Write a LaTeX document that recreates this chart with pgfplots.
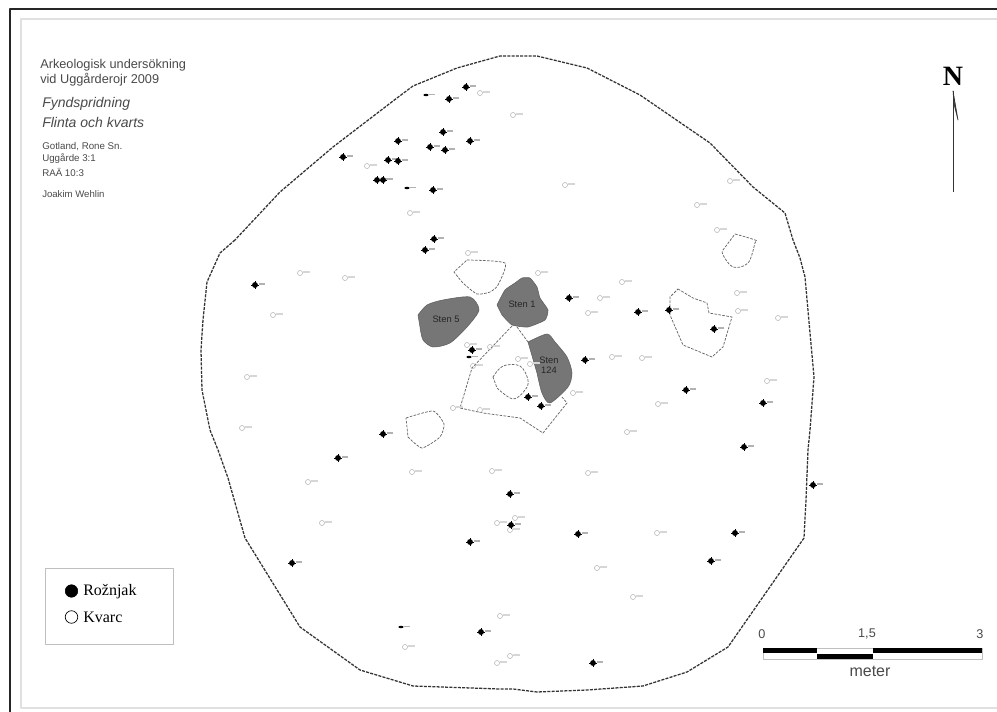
\documentclass[border=0pt]{standalone}
\usepackage{fontspec}
\setmainfont{Liberation Sans}
\newfontfamily\serif{Liberation Serif}
\usepackage{pgfplots}
\pgfplotsset{compat=1.18}
\definecolor{stone}{HTML}{767676}
\definecolor{txt}{HTML}{4A4A4A}
\pgfdeclareplotmark{rock}{%
  \pgfsetfillcolor{black}\pgfsetstrokecolor{black}%
  \pgfpathcircle{\pgfpointorigin}{2.2pt}\pgfusepath{fill}%
  \pgfsetlinewidth{0.4pt}%
  \pgfpathmoveto{\pgfpoint{-3pt}{0pt}}\pgfpathlineto{\pgfpoint{3pt}{0pt}}%
  \pgfpathmoveto{\pgfpoint{0pt}{-3pt}}\pgfpathlineto{\pgfpoint{0pt}{3pt}}\pgfusepath{stroke}%
  \pgfsetstrokecolor{black!30}\pgfsetlinewidth{1.5pt}%
  \pgfpathmoveto{\pgfpoint{3.2pt}{0.7pt}}\pgfpathlineto{\pgfpoint{7.5pt}{0.7pt}}\pgfusepath{stroke}%
}
\pgfdeclareplotmark{rocksmall}{%
  \pgfsetfillcolor{black}\pgfsetstrokecolor{black}%
  \pgfpathellipse{\pgfpointorigin}{\pgfpoint{2pt}{0pt}}{\pgfpoint{0pt}{0.9pt}}\pgfusepath{fill}%
  \pgfsetstrokecolor{black!30}\pgfsetlinewidth{1.2pt}%
  \pgfpathmoveto{\pgfpoint{2.4pt}{0.3pt}}\pgfpathlineto{\pgfpoint{6.5pt}{0.3pt}}\pgfusepath{stroke}%
}
\pgfdeclareplotmark{quartz}{%
  \pgfsetstrokecolor{black!28}\pgfsetlinewidth{0.4pt}%
  \pgfpathcircle{\pgfpointorigin}{1.9pt}\pgfusepath{stroke}%
  \pgfsetstrokecolor{black!16}\pgfsetlinewidth{1.6pt}%
  \pgfpathmoveto{\pgfpoint{2.4pt}{1pt}}\pgfpathlineto{\pgfpoint{7.5pt}{1pt}}\pgfusepath{stroke}%
}
\begin{document}
\begin{tikzpicture}
\begin{axis}[
  scale only axis, width=747.75pt, height=534pt,
  xmin=0, xmax=997, ymin=0, ymax=712, y dir=reverse,
  hide axis, clip=true,
  every axis plot/.append style={line join=round},
]
% background
\addplot[fill=white,draw=none] coordinates {(0,0)(997,0)(997,712)(0,712)} --cycle;
% frame
\addplot[black!85,line width=1.7pt] coordinates {(997,9)(10,9)(10,712)};
\addplot[black!12,line width=1.4pt] coordinates {(997,19)(21,19)(21,708)(997,708)};
% boundary
\addplot[black!80,line width=0.95pt,dash pattern=on 2.3pt off 0.9pt] coordinates {
(235,240)(220,253)(207,282)(203,320)(201,350)(202,390)(210,430)(218,450)(228,478)(245,538)
(300,627)(360,670)(413,686)(500,689)(513,689)(537,692)(587,690)(643,686)(687,672)(728,647)
(804,538)(806,500)(808,450)(810,430)(814,377)(810,333)(805,277)(800,258)(793,240)(785,213)
(753,187)(710,143)(640,95)(587,68)(537,56)(500,56)(457,68)(413,86)(397,98)(333,147)(280,192)(235,240)};
% stones
\addplot[smooth,tension=0.45,fill=stone,draw=stone!80!black,line width=0.4pt] coordinates {
(418,315)(427,305)(443,300)(470,297)(479,310)(467,327)(450,343)(433,347)(423,340)(420,327)} --cycle;
\addplot[smooth,tension=0.3,fill=stone,draw=stone!80!black,line width=0.4pt] coordinates {
(497,305)(505,290)(515,283)(522,278)(530,278)(537,287)(540,298)(548,310)(545,320)(528,327)(512,325)(502,315)} --cycle;
\addplot[smooth,tension=0.45,fill=stone,draw=stone!80!black,line width=0.4pt] coordinates {
(528,342)(547,334)(555,342)(567,357)(572,373)(568,387)(550,403)(542,393)(537,373)} --cycle;
% features
\pgfplotsset{feat/.style={black!60,line width=0.55pt,dash pattern=on 2pt off 1pt}}
\addplot[feat,smooth,tension=0.35] coordinates {(467,260)(505,263)(498,285)(490,292)(477,294)(463,283)(454,272)} --cycle;
\addplot[feat] coordinates {(512,326)(472,368)(460,408)(483,413)(520,418)(543,433)(567,403)(562,397)};
\addplot[feat] coordinates {(517,327)(528,342)};
\addplot[feat,smooth,tension=0.6] coordinates {(493,377)(503,366)(520,366)(528,380)(525,390)(513,399)(497,388)} --cycle;
\addplot[feat,smooth,tension=0.35] coordinates {(406,418)(433,411)(444,424)(440,437)(422,448)(408,437)} --cycle;
\addplot[feat,smooth,tension=0.6] coordinates {(735,234)(755,240)(755,243)(748,263)(733,267)(723,255)(723,250)} --cycle;
\addplot[feat] coordinates {(678,289)(693,298)(707,303)(709,313)(732,317)(723,347)(712,357)(683,345)(670,315)(670,297)} --cycle;
% kvarts
\addplot[only marks,mark=quartz] coordinates {
(480,93)(367,166)(410,213)(468,253)(513,115)(565,185)(730,181)(697,205)(717,230)
(300,273)(345,278)(273,315)(538,273)(247,377)(242,428)(467,345)(490,347)(473,366)(518,359)(530,364)
(453,408)(480,410)(412,472)(492,471)(588,473)(600,298)(588,313)(622,282)(612,357)(642,358)
(737,293)(738,311)(778,318)(573,393)(658,404)(767,381)(627,432)(308,482)(322,523)(497,523)
(405,647)(497,663)(657,533)(597,568)(633,597)(510,530)(515,518)(500,616)(510,656)};
% flinta
\addplot[only marks,mark=rock] coordinates {
(466,87)(449,99)(443,132)(398,141)(470,141)(430,147)(445,150)(343,157)(388,160)(398,161)
(377,180)(383,180)(433,190)(434,239)(425,250)(255,285)(472,350)(569,298)(585,360)(528,397)(541,406)
(383,434)(338,458)(638,312)(669,310)(714,329)(686,390)(763,403)(744,447)(813,485)
(470,542)(292,563)(481,632)(510,494)(511,525)(578,534)(735,533)(711,561)(593,663)};
\addplot[only marks,mark=rocksmall] coordinates {(426,95)(407,188)(469,357)(401,627)};
% legend
\addplot[black!25,line width=0.6pt,fill=white] coordinates {(45,568)(173,568)(173,644)(45,644)} --cycle;
\addplot[only marks,mark=*,mark size=4.7pt,mark options={fill=black,draw=black}] coordinates {(71.5,591)};
\addplot[only marks,mark=o,mark size=4.7pt,mark options={draw=black,line width=0.5pt}] coordinates {(71.5,617)};
% scale bar
\addplot[black!25,line width=0.4pt] coordinates {(763,648)(982,648)(982,659)(763,659)} --cycle;
\addplot[fill=black,draw=none] coordinates {(763,648)(817,648)(817,653)(763,653)} --cycle;
\addplot[fill=black,draw=none] coordinates {(817,654)(873,654)(873,659)(817,659)} --cycle;
\addplot[fill=black,draw=none] coordinates {(873,648)(982,648)(982,653)(873,653)} --cycle;
% north arrow
\addplot[black!80,line width=0.7pt] coordinates {(953,192)(953,91)};
\addplot[black!80,line width=0.5pt,fill=black!60] coordinates {(953,91)(958,120)(954,104)} --cycle;
% texts
\begin{scope}[every node/.style={anchor=west,inner sep=0pt,text=txt,font=\fontsize{9.55pt}{11pt}\selectfont}]
\node at (axis cs:40,65) {Arkeologisk undersökning};
\node at (axis cs:40,80) {vid Uggårderojr 2009};
\node[font=\fontsize{10.5pt}{12pt}\itshape] at (axis cs:42,104) {Fyndspridning};
\node[font=\fontsize{10.5pt}{12pt}\itshape] at (axis cs:42,123) {Flinta och kvarts};
\node[font=\fontsize{7.3pt}{9pt}\selectfont] at (axis cs:42,147) {Gotland, Rone Sn.};
\node[font=\fontsize{7.3pt}{9pt}\selectfont] at (axis cs:42,159) {Uggårde 3:1};
\node[font=\fontsize{7.3pt}{9pt}\selectfont] at (axis cs:42,172) {RAÄ 10:3};
\node[font=\fontsize{7.2pt}{9pt}\selectfont] at (axis cs:42,194) {Joakim Wehlin};
\node[text=black,font=\serif\fontsize{12pt}{14pt}\selectfont] at (axis cs:83,591.5) {Rožnjak};
\node[text=black,font=\serif\fontsize{12pt}{14pt}\selectfont] at (axis cs:83,617) {Kvarc};
\end{scope}
\begin{scope}[every node/.style={anchor=center,inner sep=0pt,text=txt}]
\node[font=\fontsize{7pt}{8pt}\selectfont,text=black!85] at (axis cs:446,319) {Sten 5};
\node[font=\fontsize{7pt}{8pt}\selectfont,text=black!85] at (axis cs:522,304) {Sten 1};
\node[font=\fontsize{7pt}{8pt}\selectfont,text=black!85] at (axis cs:549,360) {Sten};
\node[font=\fontsize{7pt}{8pt}\selectfont,text=black!85] at (axis cs:549,370) {124};
\node[font=\fontsize{9.5pt}{11pt}\selectfont] at (axis cs:762,634) {0};
\node[font=\fontsize{9.5pt}{11pt}\selectfont] at (axis cs:867,634) {1,5};
\node[font=\fontsize{9.5pt}{11pt}\selectfont] at (axis cs:980,634) {3};
\node[font=\fontsize{12pt}{14pt}\selectfont] at (axis cs:870,671) {meter};
\node[text=black,font=\serif\bfseries\fontsize{21pt}{24pt}\selectfont] at (axis cs:953,76) {N};
\end{scope}
\end{axis}
\pgfresetboundingbox
\useasboundingbox (0,0) rectangle (747.75pt,534pt);
\end{tikzpicture}
\end{document}
